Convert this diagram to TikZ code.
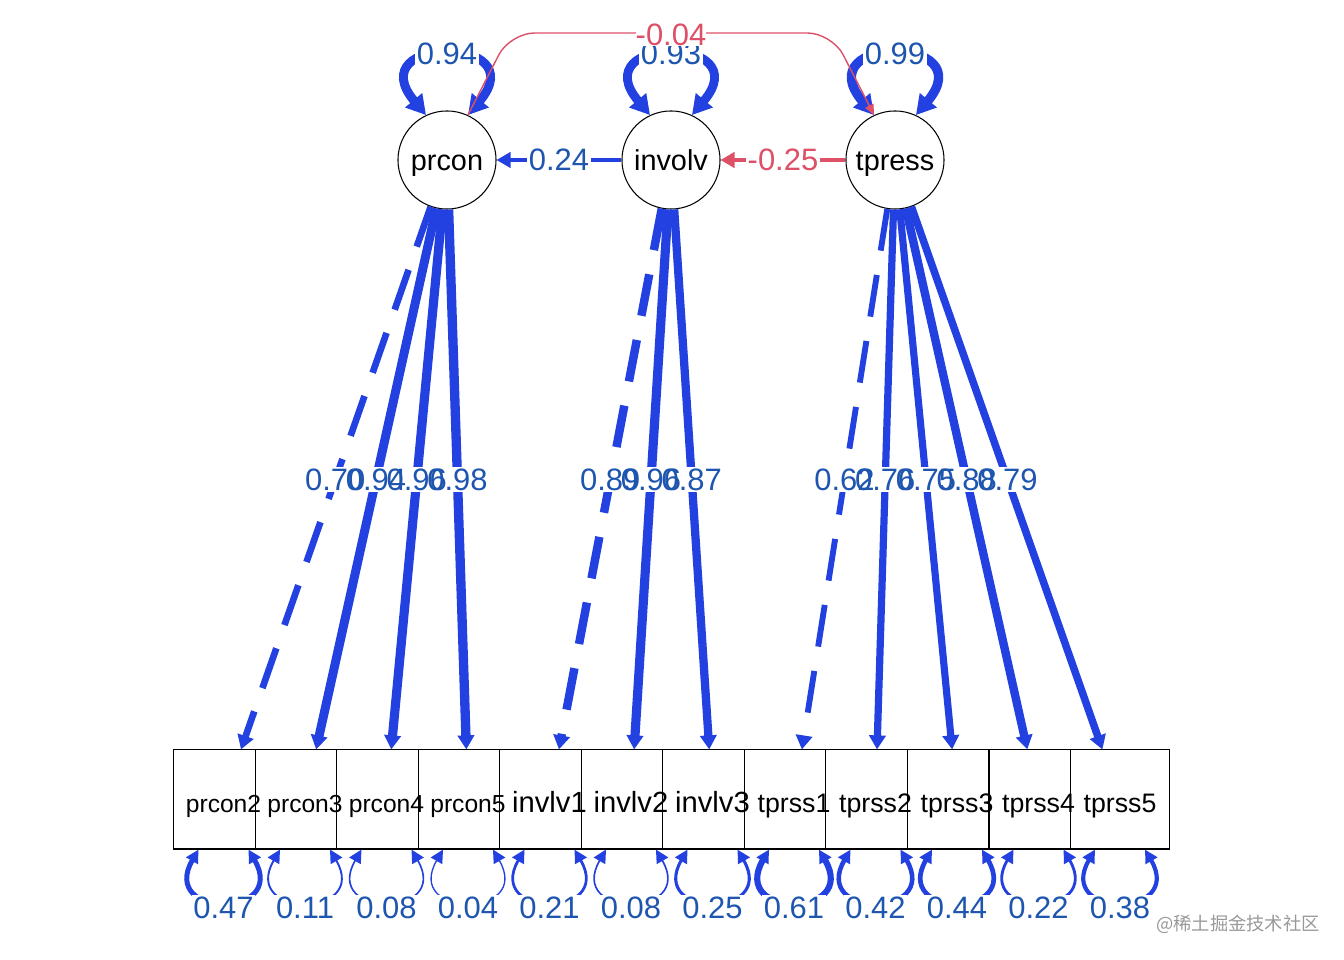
\documentclass[tikz,border=0pt]{standalone}
\usepackage{fontspec}
\setmainfont{Liberation Sans}
\newfontfamily\cjkfont{Noto Sans CJK SC}
\usetikzlibrary{arrows.meta,calc}
\definecolor{edgeblue}{RGB}{35,64,225}
\definecolor{labblue}{RGB}{30,85,175}
\definecolor{edgered}{RGB}{222,80,104}
\tikzset{
  latent/.style={circle, draw=black, line width=0.3pt, fill=white, minimum size=0.98cm, inner sep=0pt, font=\fontsize{8.2}{9}\selectfont, text height=7.5pt, text depth=1.6pt},
  manifest/.style={rectangle, draw=black, line width=0.3pt, fill=white, minimum width=0.99cm, minimum height=0.99cm, inner sep=0pt},
  obs/.style={inner sep=0pt, font=\fontsize{#1}{10}\selectfont, text height=0.916em, text depth=0.2em},
  load/.style={draw=edgeblue, -{Triangle[length=4pt,width=4.6pt]}, line width=#1},
  fixload/.style={load=#1, dash pattern=on 12pt off 7pt},
  selfloop/.style={draw=edgeblue, {Triangle[length=5.5pt,width=6pt]}-{Triangle[length=5.5pt,width=6pt]}, line width=#1},
  resid/.style={draw=edgeblue, {Triangle[length=3.7pt,width=3.7pt]}-{Triangle[length=3.7pt,width=3.7pt]}, line width=#1},
  val/.style={text=labblue, fill=white, inner sep=0.5pt, font=\fontsize{8.8}{10}\selectfont},
  valbg/.style={val, text opacity=0},
}
\begin{document}
\begin{tikzpicture}[x=0.01cm, y=0.01cm]
\useasboundingbox (0,0) rectangle (1344,960);
\node[latent] (prcon) at (447,800) {prcon};
\node[latent] (involv) at (671,800) {involv};
\node[latent] (tpress) at (895,800) {tpress};
\node[manifest] (p2) at (223.5,160.5) {};
\node[manifest] (p3) at (305,160.5) {};
\node[manifest] (p4) at (386.5,160.5) {};
\node[manifest] (p5) at (468,160.5) {};
\node[manifest] (i1) at (549.5,160.5) {};
\node[manifest] (i2) at (631,160.5) {};
\node[manifest] (i3) at (712.5,160.5) {};
\node[manifest] (t1) at (794,160.5) {};
\node[manifest] (t2) at (875.5,160.5) {};
\node[manifest] (t3) at (957,160.5) {};
\node[manifest] (t4) at (1038.5,160.5) {};
\node[manifest] (t5) at (1120,160.5) {};
\node[obs=7] (p2t) at (p2) {prcon2};
\node[obs=7] (p3t) at (p3) {prcon3};
\node[obs=7] (p4t) at (p4) {prcon4};
\node[obs=7] (p5t) at (p5) {prcon5};
\node[obs=8.3] (i1t) at (i1) {invlv1};
\node[obs=8.3] (i2t) at (i2) {invlv2};
\node[obs=8.3] (i3t) at (i3) {invlv3};
\node[obs=7.6] (t1t) at (t1) {tprss1};
\node[obs=7.6] (t2t) at (t2) {tprss2};
\node[obs=7.6] (t3t) at (t3) {tprss3};
\node[obs=7.6] (t4t) at (t4) {tprss4};
\node[obs=7.6] (t5t) at (t5) {tprss5};
\draw[fixload=1.89pt] (prcon) -- (p2);
\draw[load=2.54pt] (prcon) -- (p3);
\draw[load=2.6pt] (prcon) -- (p4);
\draw[load=2.65pt] (prcon) -- (p5);
\draw[fixload=2.4pt] (involv) -- (i1);
\draw[load=2.6pt] (involv) -- (i2);
\draw[load=2.35pt] (involv) -- (i3);
\draw[fixload=1.67pt] (tpress) -- (t1);
\draw[load=2.05pt] (tpress) -- (t2);
\draw[load=2.03pt] (tpress) -- (t3);
\draw[load=2.38pt] (tpress) -- (t4);
\draw[load=2.13pt] (tpress) -- (t5);
\draw[draw=edgeblue, line width=0.86pt, -{Triangle[length=4pt,width=4.4pt]}] (involv) -- (prcon);
\draw[draw=edgered, line width=0.88pt, -{Triangle[length=4pt,width=4.4pt]}] (tpress) -- (involv);
\draw[selfloop=2.54pt] (prcon.115) .. controls +(130:105) and +(50:105) .. (prcon.65);
\draw[selfloop=2.51pt] (involv.115) .. controls +(130:105) and +(50:105) .. (involv.65);
\draw[selfloop=2.66pt] (tpress.115) .. controls +(130:105) and +(50:105) .. (tpress.65);
\draw[draw=edgered, line width=0.4pt, rounded corners=7pt, -{Triangle[length=3pt,width=2.6pt]}] (prcon.65) -- (510,927) -- (832,927) -- (tpress.115);
\draw[resid=1.41pt] ($(p2.south)+(-25,0)$) .. controls +(240:80) and +(300:80) .. ($(p2.south)+(25,0)$);
\draw[resid=0.54pt] ($(p3.south)+(-25,0)$) .. controls +(240:80) and +(300:80) .. ($(p3.south)+(25,0)$);
\draw[resid=0.47pt] ($(p4.south)+(-25,0)$) .. controls +(240:80) and +(300:80) .. ($(p4.south)+(25,0)$);
\draw[resid=0.38pt] ($(p5.south)+(-25,0)$) .. controls +(240:80) and +(300:80) .. ($(p5.south)+(25,0)$);
\draw[resid=0.78pt] ($(i1.south)+(-25,0)$) .. controls +(240:80) and +(300:80) .. ($(i1.south)+(25,0)$);
\draw[resid=0.47pt] ($(i2.south)+(-25,0)$) .. controls +(240:80) and +(300:80) .. ($(i2.south)+(25,0)$);
\draw[resid=0.88pt] ($(i3.south)+(-25,0)$) .. controls +(240:80) and +(300:80) .. ($(i3.south)+(25,0)$);
\draw[resid=1.74pt] ($(t1.south)+(-25,0)$) .. controls +(240:80) and +(300:80) .. ($(t1.south)+(25,0)$);
\draw[resid=1.29pt] ($(t2.south)+(-25,0)$) .. controls +(240:80) and +(300:80) .. ($(t2.south)+(25,0)$);
\draw[resid=1.34pt] ($(t3.south)+(-25,0)$) .. controls +(240:80) and +(300:80) .. ($(t3.south)+(25,0)$);
\draw[resid=0.81pt] ($(t4.south)+(-25,0)$) .. controls +(240:80) and +(300:80) .. ($(t4.south)+(25,0)$);
\draw[resid=1.19pt] ($(t5.south)+(-25,0)$) .. controls +(240:80) and +(300:80) .. ($(t5.south)+(25,0)$);
\foreach \a/\b in {prcon/p2, prcon/p3, prcon/p4, prcon/p5, involv/i1, involv/i2, involv/i3, tpress/t1, tpress/t2, tpress/t3, tpress/t4, tpress/t5}
  \node[valbg] (bg\b) at ($(\a)!0.5!(\b)$) {0.00};
\node[val, fill=none] (lp2) at ($(prcon)!0.5!(p2)$) {0.70};
\node[val, fill=none] (lp3) at ($(prcon)!0.5!(p3)$) {0.94};
\node[val, fill=none] (lp4) at ($(prcon)!0.5!(p4)$) {0.96};
\node[val, fill=none] (lp5) at ($(prcon)!0.5!(p5)$) {0.98};
\node[val, fill=none] (li1) at ($(involv)!0.5!(i1)$) {0.89};
\node[val, fill=none] (li2) at ($(involv)!0.5!(i2)$) {0.96};
\node[val, fill=none] (li3) at ($(involv)!0.5!(i3)$) {0.87};
\node[val, fill=none] (lt1) at ($(tpress)!0.5!(t1)$) {0.62};
\node[val, fill=none] (lt2) at ($(tpress)!0.5!(t2)$) {0.76};
\node[val, fill=none] (lt3) at ($(tpress)!0.5!(t3)$) {0.75};
\node[val, fill=none] (lt4) at ($(tpress)!0.5!(t4)$) {0.88};
\node[val, fill=none] (lt5) at ($(tpress)!0.5!(t5)$) {0.79};
\node[val] (lip) at ($(involv)!0.5!(prcon)$) {0.24};
\node[val, text=edgered] (lti) at ($(tpress)!0.5!(involv)$) {-0.25};
\node[val] (vprcon) at (447,906) {0.94};
\node[val] (vinvolv) at (671,906) {0.93};
\node[val] (vtpress) at (895,906) {0.99};
\node[val, inner sep=0pt, text=edgered] (lcov) at (671,925) {-0.04};
\node[val] (rp2) at (223.5,52) {0.47};
\node[val] (rp3) at (305,52) {0.11};
\node[val] (rp4) at (386.5,52) {0.08};
\node[val] (rp5) at (468,52) {0.04};
\node[val] (ri1) at (549.5,52) {0.21};
\node[val] (ri2) at (631,52) {0.08};
\node[val] (ri3) at (712.5,52) {0.25};
\node[val] (rt1) at (794,52) {0.61};
\node[val] (rt2) at (875.5,52) {0.42};
\node[val] (rt3) at (957,52) {0.44};
\node[val] (rt4) at (1038.5,52) {0.22};
\node[val] (rt5) at (1120,52) {0.38};
\node[text=black!40, font=\cjkfont\fontsize{5.2}{6}\selectfont] (wm) at (1238,36) {@稀土掘金技术社区};
\end{tikzpicture}
\end{document}
